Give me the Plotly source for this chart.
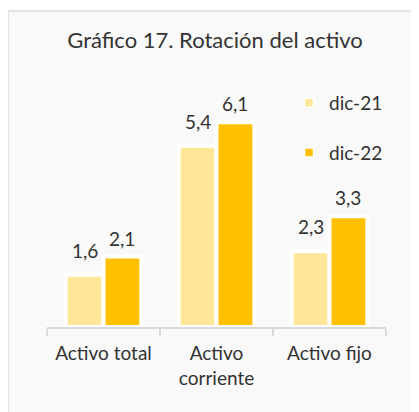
import plotly.graph_objects as go

categories = ["Activo total", "Activo<br>corriente", "Activo fijo"]
dic21 = [1.56, 5.4, 2.26]
dic22 = [2.1, 6.1, 3.3]
series_names = ["dic-21", "dic-22"]
colors = ["#FFE699", "#FFC000"]
title = "Gráfico 17. Rotación del activo"

# the page body adds an 8px offset, so the figure is sized to the remaining area
W, H = 411, 404
ml, mr, mt, mb = 39, 33, 84, 85
pw, ph = W - ml - mr, H - mt - mb

font_family = "Lato, 'Open Sans', sans-serif"
text_color = "#333333"

fig = go.Figure()
series = [dic21, dic22]
for name, vals, col in zip(series_names, series, colors):
    fig.add_trace(go.Bar(
        x=categories, y=vals, name=name,
        marker=dict(color=col, line=dict(color="white", width=4)),
        showlegend=False, legendgroup=name,
    ))
    fig.add_trace(go.Scatter(
        x=[None], y=[None], mode="markers", name=name, legendgroup=name,
        marker=dict(symbol="square", size=9, color=col, line=dict(color="white", width=1.5)),
    ))

# data labels above each bar (grouped bars: offset half a bar slot)
slot = pw / len(categories) * (1 - 0.33) / 2
label_lift = [11, 5]
for si, vals in enumerate(series):
    shift = (si - 0.5) * slot
    for cat, v in zip(categories, vals):
        fig.add_annotation(
            x=cat, y=v, text=f"{v:.1f}".replace(".", ","), showarrow=False,
            xshift=shift, yshift=label_lift[si], yanchor="bottom",
            font=dict(size=19, color=text_color, family=font_family),
        )


def px_x(p):
    return (p - ml) / pw


def px_y(p):
    return (H - mb - p) / ph


fig.add_shape(type="rect", xref="paper", yref="paper",
              x0=px_x(0), x1=px_x(W + 20), y0=px_y(H + 20), y1=px_y(3),
              fillcolor="#f9f9f9", line=dict(color="#e3e3e3", width=2),
              layer="below")

fig.update_layout(
    width=W, height=H,
    margin=dict(l=ml, r=mr, t=mt, b=mb),
    paper_bgcolor="white", plot_bgcolor="rgba(0,0,0,0)",
    separators=",.",
    barmode="group", bargap=0.33, bargroupgap=0,
    font=dict(family=font_family, color=text_color, size=19),
    title=dict(text=title, x=207 / W, xanchor="center", y=1 - 32 / H, yanchor="middle",
               font=dict(size=22, color=text_color, family=font_family)),
    legend=dict(x=px_x(281), xanchor="left", y=px_y(76), yanchor="top",
                bgcolor="rgba(0,0,0,0)", font=dict(size=19, color=text_color),
                tracegroupgap=22, itemwidth=30),
    showlegend=True,
)
fig.update_xaxes(showline=True, linecolor="#d9d9d9", linewidth=2,
                 ticks="outside", tickson="boundaries", ticklen=7, tickcolor="#d9d9d9",
                 tickwidth=2, tickfont=dict(size=19, color=text_color),
                 ticklabelstandoff=8, range=[-0.5, 2.5])
fig.update_yaxes(visible=False, range=[0, 7.0])

fig.write_html("out.html")
